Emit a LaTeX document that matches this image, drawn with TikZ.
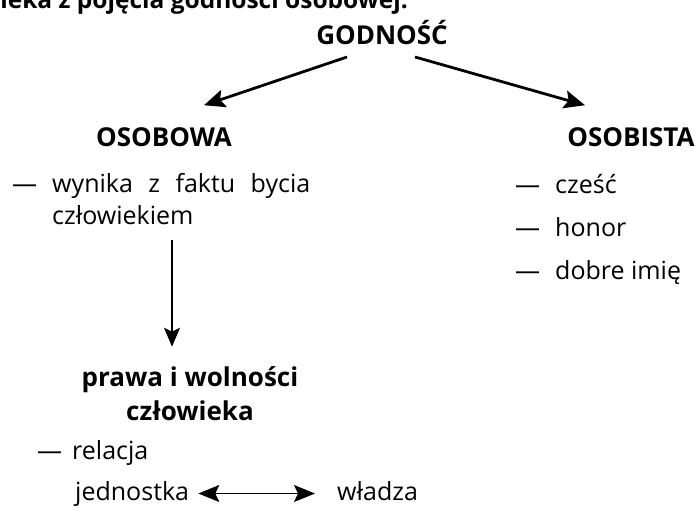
\documentclass[tikz,border=0pt]{standalone}
\usepackage{fontspec}
\setmainfont{Open Sans}
\usetikzlibrary{arrows.meta,positioning,calc}
\tikzset{
heading/.style={
    font=\bfseries\fontsize{26}{34}\selectfont,
    inner sep=0pt, text=black
  },
item/.style={
    font=\fontsize{25}{30}\selectfont,
    inner sep=0pt, anchor=base west, text=black
  }
}

\begin{document}
\begin{tikzpicture}[x=1pt, y=-1pt,
 bigarrow/.style={line width=2.8pt, -{Stealth[length=21pt,width=18pt,inset=4pt]}},
 smallarrow/.style={line width=1.3pt, -{Stealth[length=19pt,width=16pt,inset=4pt]}},
 botharrow/.style={line width=1.3pt, {Stealth[length=21pt,width=17pt,inset=4pt]}-{Stealth[length=21pt,width=17pt,inset=4pt]}}
  ]
\useasboundingbox (0,0) rectangle (696,511);

% heading line cut by the top edge
\node[heading, font=\bfseries\fontsize{24.5}{30}\selectfont, anchor=base east] (intro) at (408,9) {ieka z pojęcia godności osobowej.};

\node[heading] (godn) at (382,33) {GODNOŚĆ};
\node[heading] (osobowa) at (164,137) {OSOBOWA};
\node[heading] (osobista) at (631,137) {OSOBISTA};

% left branch
\node[item] (d1) at (12,192) {—};
\node[item] (wyn) at (52,192) {\makebox[258pt][s]{wynika z faktu bycia}};
\node[item] (czl) at (52,224) {człowiekiem};
\node[heading, align=center] (prawa) at (190,394) {prawa i wolności\\człowieka};
\node[item] (d2) at (37,459) {—};
\node[item] (rel) at (72,459) {relacja};
\node[item] (jedn) at (75,500) {jednostka};
\node[item] (wladza) at (337,500) {władza};

% right branch
\node[item] (d3) at (515,193) {—};
\node[item] (czesc) at (555,193) {cześć};
\node[item] (d4) at (515,236) {—};
\node[item] (honor) at (555,236) {honor};
\node[item] (d5) at (515,279) {—};
\node[item] (imie) at (555,279) {dobre imię};

\coordinate (lstart) at (347,57);
\coordinate (rstart) at (415,57);
\coordinate (down) at (172,240);
\draw[bigarrow] (lstart) -- ($(osobowa.north)+(40,-22)$);
\draw[bigarrow] (rstart) -- ($(osobista.north)+(-46,-22)$);
\draw[smallarrow] (down) -- ($(prawa.north -| down)+(0,-20)$);
\draw[botharrow] ([xshift=9pt]jedn.east) -- ([xshift=-22pt]wladza.west |- jedn.east);
\end{tikzpicture}
\end{document}
